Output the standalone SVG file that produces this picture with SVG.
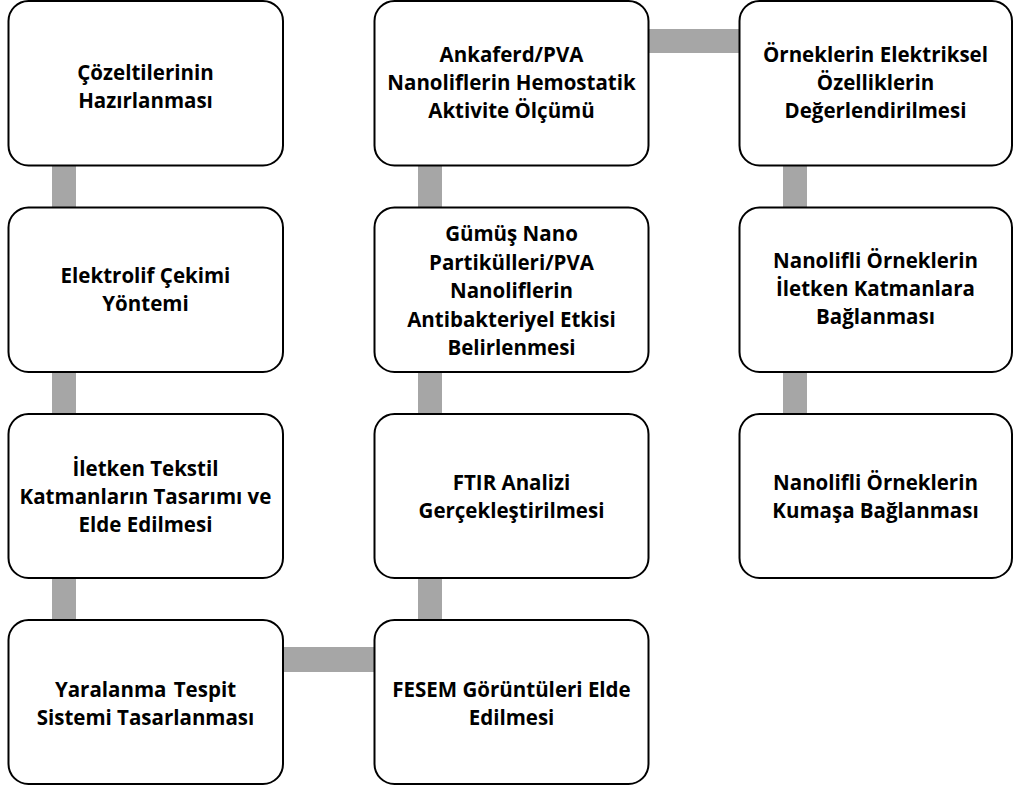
<svg xmlns="http://www.w3.org/2000/svg" width="1014" height="789" viewBox="0 0 1014 789">
  <style>
    .box { fill: #ffffff; stroke: #000000; stroke-width: 2; }
    .link { fill: #a6a6a6; stroke: none; }
    .lbl { font-family: "Open Sans", "Liberation Sans", Arial, sans-serif; font-weight: bold; font-size: 20.5px; fill: #000000; text-anchor: middle; }
  </style>
  <rect width="1014" height="789" fill="#ffffff"/>

  <!-- connectors between steps -->
  <g id="connectors">
    <rect class="link" x="52" y="165" width="24" height="42"/>
    <rect class="link" x="52" y="372" width="24" height="42"/>
    <rect class="link" x="52" y="578" width="24" height="42"/>
    <rect class="link" x="283" y="647" width="91" height="25"/>
    <rect class="link" x="418" y="578" width="24" height="42"/>
    <rect class="link" x="418" y="372" width="24" height="42"/>
    <rect class="link" x="418" y="165" width="24" height="42"/>
    <rect class="link" x="649" y="29" width="90" height="24"/>
    <rect class="link" x="783" y="165" width="24" height="42"/>
    <rect class="link" x="783" y="372" width="24" height="42"/>
  </g>

  <!-- column 1 -->
  <g id="cozelti">
    <rect class="box" x="8.5" y="1" width="274.5" height="164.5" rx="20"/>
    <text class="lbl" x="145.5" y="80">Çözeltilerinin</text>
    <text class="lbl" x="145.5" y="108">Hazırlanması</text>
  </g>
  <g id="elektrolif">
    <rect class="box" x="8.5" y="207.5" width="274.5" height="164.5" rx="20"/>
    <text class="lbl" x="145.5" y="283">Elektrolif Çekimi</text>
    <text class="lbl" x="145.5" y="311">Yöntemi</text>
  </g>
  <g id="iletken-tekstil">
    <rect class="box" x="8.5" y="414" width="274.5" height="164" rx="20"/>
    <text class="lbl" x="145.5" y="476">İletken Tekstil</text>
    <text class="lbl" x="145.5" y="504">Katmanların Tasarımı ve</text>
    <text class="lbl" x="145.5" y="532">Elde Edilmesi</text>
  </g>
  <g id="yaralanma">
    <rect class="box" x="8.5" y="620" width="274.5" height="164" rx="20"/>
    <text class="lbl" x="145.5" y="697" word-spacing="2">Yaralanma Tespit</text>
    <text class="lbl" x="145.5" y="725">Sistemi Tasarlanması</text>
  </g>

  <!-- column 2 -->
  <g id="fesem">
    <rect class="box" x="374.5" y="620" width="274" height="164" rx="20"/>
    <text class="lbl" x="511.5" y="697">FESEM Görüntüleri Elde</text>
    <text class="lbl" x="511.5" y="725">Edilmesi</text>
  </g>
  <g id="ftir">
    <rect class="box" x="374.5" y="414" width="274" height="164" rx="20"/>
    <text class="lbl" x="511.5" y="490">FTIR Analizi</text>
    <text class="lbl" x="511.5" y="518">Gerçekleştirilmesi</text>
  </g>
  <g id="antibakteriyel">
    <rect class="box" x="374.5" y="207.5" width="274" height="164.5" rx="20"/>
    <text class="lbl" x="511.5" y="241">Gümüş Nano</text>
    <text class="lbl" x="511.5" y="269.5">Partikülleri/PVA</text>
    <text class="lbl" x="511.5" y="298">Nanoliflerin</text>
    <text class="lbl" x="511.5" y="326.5">Antibakteriyel Etkisi</text>
    <text class="lbl" x="511.5" y="355">Belirlenmesi</text>
  </g>
  <g id="hemostatik">
    <rect class="box" x="374.5" y="1" width="274" height="164.5" rx="20"/>
    <text class="lbl" x="511.5" y="62">Ankaferd/PVA</text>
    <text class="lbl" x="511.5" y="90">Nanoliflerin Hemostatik</text>
    <text class="lbl" x="511.5" y="118">Aktivite Ölçümü</text>
  </g>

  <!-- column 3 -->
  <g id="elektriksel">
    <rect class="box" x="739.5" y="1" width="272.5" height="164.5" rx="20"/>
    <text class="lbl" x="875.5" y="62">Örneklerin Elektriksel</text>
    <text class="lbl" x="875.5" y="90">Özelliklerin</text>
    <text class="lbl" x="875.5" y="118">Değerlendirilmesi</text>
  </g>
  <g id="katmanlara">
    <rect class="box" x="739.5" y="207.5" width="272.5" height="164.5" rx="20"/>
    <text class="lbl" x="875.5" y="268">Nanolifli Örneklerin</text>
    <text class="lbl" x="875.5" y="296">İletken Katmanlara</text>
    <text class="lbl" x="875.5" y="324">Bağlanması</text>
  </g>
  <g id="kumasa">
    <rect class="box" x="739.5" y="414" width="272.5" height="164" rx="20"/>
    <text class="lbl" x="875.5" y="490">Nanolifli Örneklerin</text>
    <text class="lbl" x="875.5" y="518">Kumaşa Bağlanması</text>
  </g>
</svg>
